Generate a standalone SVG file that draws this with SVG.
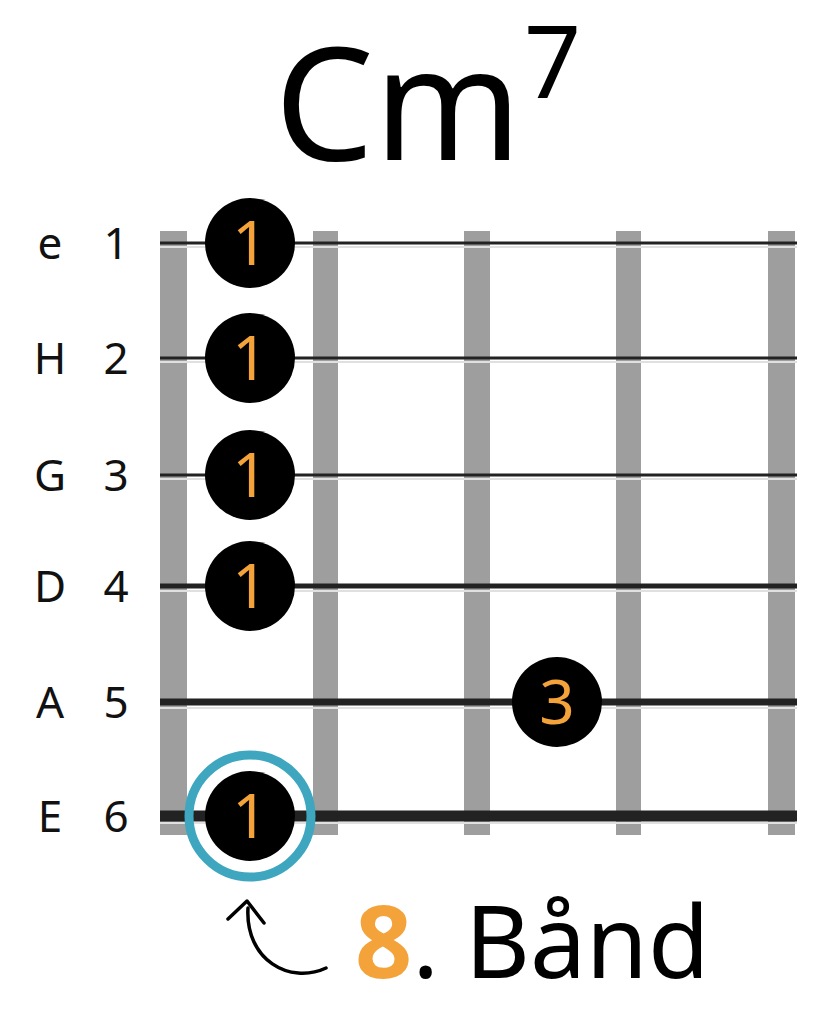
<svg xmlns="http://www.w3.org/2000/svg" width="830" height="1024" viewBox="0 0 830 1024">
<style>
.fret{fill:#9e9e9e}
.str{stroke:#222}
.hl{stroke:#e0e0e0;stroke-width:2}
.dot{fill:#000}
.num{fill:#f4a23a;font-family:"Noto Sans","Liberation Sans",sans-serif;font-size:62px;text-anchor:middle}
.lbl{font-family:"Noto Sans","Liberation Sans",sans-serif;font-size:44px;fill:#111;text-anchor:middle}
</style>
<rect width="830" height="1024" fill="#fff"/>
<text x="398" y="160" font-family="Noto Sans,Liberation Sans,sans-serif" font-size="158" text-anchor="middle" fill="#000">Cm</text>
<text x="524" y="98" font-family="Noto Sans,Liberation Sans,sans-serif" font-size="100" fill="#000">7</text>
<g id="frets">
<rect class="fret" x="160" y="231" width="27" height="604"/>
<rect class="fret" x="313" y="231" width="25" height="604"/>
<rect class="fret" x="464" y="231" width="26" height="604"/>
<rect class="fret" x="616" y="231" width="25" height="604"/>
<rect class="fret" x="768" y="231" width="27" height="604"/>
</g>
<g id="connectors">
<line class="hl" x1="160" y1="247" x2="797" y2="247"/>
<line class="str" x1="160" y1="243" x2="797" y2="243" stroke-width="3"/>
<line class="hl" x1="160" y1="362" x2="797" y2="362"/>
<line class="str" x1="160" y1="358" x2="797" y2="358" stroke-width="3"/>
<line class="hl" x1="160" y1="479" x2="797" y2="479"/>
<line class="str" x1="160" y1="475" x2="797" y2="475" stroke-width="3"/>
<line class="hl" x1="160" y1="591" x2="797" y2="591"/>
<line class="str" x1="160" y1="586" x2="797" y2="586" stroke-width="5"/>
<line class="hl" x1="160" y1="708" x2="797" y2="708"/>
<line class="str" x1="160" y1="702" x2="797" y2="702" stroke-width="7"/>
<line class="hl" x1="160" y1="823" x2="797" y2="823"/>
<line class="str" x1="160" y1="816" x2="797" y2="816" stroke-width="11"/>
<path d="M326 968 C290 985 245 960 248 908" fill="none" stroke="#000" stroke-width="3.5" stroke-linecap="round"/>
<path d="M228 919 L247 901 L264 923" fill="none" stroke="#000" stroke-width="3.5" stroke-linecap="round" stroke-linejoin="round"/>
</g>
<g id="labels">
<text class="lbl" x="50" y="259">e</text><text class="lbl" x="116" y="259">1</text>
<text class="lbl" x="50" y="374">H</text><text class="lbl" x="116" y="374">2</text>
<text class="lbl" x="50" y="491">G</text><text class="lbl" x="116" y="491">3</text>
<text class="lbl" x="50" y="602">D</text><text class="lbl" x="116" y="602">4</text>
<text class="lbl" x="50" y="718">A</text><text class="lbl" x="116" y="718">5</text>
<text class="lbl" x="50" y="832">E</text><text class="lbl" x="116" y="832">6</text>
</g>
<g id="n1"><circle class="dot" cx="250" cy="243" r="45"/><text class="num" x="250" y="265">1</text></g>
<g id="n2"><circle class="dot" cx="250" cy="358" r="45"/><text class="num" x="250" y="380">1</text></g>
<g id="n3"><circle class="dot" cx="250" cy="475" r="45"/><text class="num" x="250" y="497">1</text></g>
<g id="n4"><circle class="dot" cx="250" cy="586" r="45"/><text class="num" x="250" y="608">1</text></g>
<g id="n5"><circle class="dot" cx="557" cy="702" r="45"/><text class="num" x="557" y="724">3</text></g>
<g id="n6"><circle fill="none" stroke="#3fa6bf" stroke-width="9" cx="250" cy="816" r="61"/><circle class="dot" cx="250" cy="816" r="45"/><text class="num" x="250" y="838">1</text></g>
<g id="caption"><text x="355" y="978" font-family="Noto Sans,Liberation Sans,sans-serif" font-size="100" fill="#000"><tspan fill="#f4a23a" font-weight="bold">8</tspan>. Bånd</text></g>
</svg>
